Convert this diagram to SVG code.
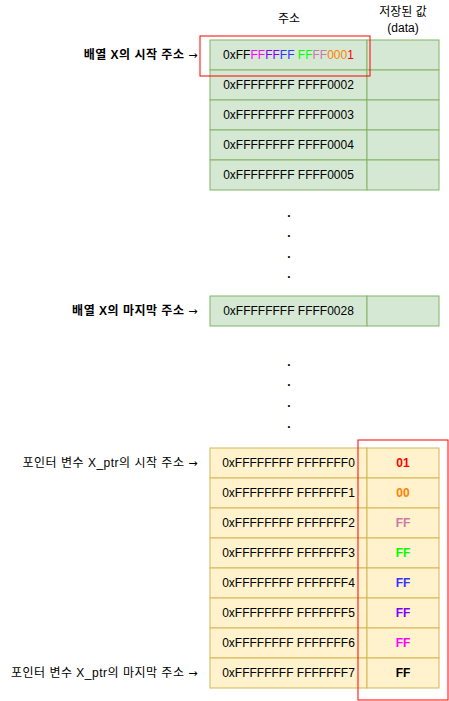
<svg xmlns="http://www.w3.org/2000/svg" width="449" height="701" viewBox="0 0 449 701">
<style>
text{font-family:"Liberation Sans","Noto Sans CJK KR",Arial,sans-serif;font-size:12px;fill:#000}
.g{fill:#d5e8d4;stroke:#82b366;stroke-width:1}
.y{fill:#fff2cc;stroke:#d6b656;stroke-width:1}
.a{text-anchor:middle}
.r{text-anchor:end;letter-spacing:0.5px}
.b{font-weight:bold}
.ar{font-family:"DejaVu Sans",sans-serif;font-weight:normal;font-size:11px}
.hl{fill:none;stroke:#ff0000;stroke-width:1}
</style>
<rect width="449" height="701" fill="#ffffff"/>
<g id="header">
<text class="a" x="289" y="23">주소</text>
<text class="a" x="403" y="16">저장된 값</text>
<text class="a" x="403" y="32">(data)</text>
</g>
<g id="array-rows">
<g id="a1"><rect class="g" x="210" y="40" width="157" height="30"/><rect class="g" x="367" y="40" width="72" height="30"/>
<text class="a" x="288.5" y="59">0xFF<tspan style="fill:#ff00ff">FF</tspan><tspan style="fill:#7f00ff">FF</tspan><tspan style="fill:#3333ff">FF</tspan> <tspan style="fill:#00ff00">FF</tspan><tspan style="fill:#cc79a7">FF</tspan><tspan style="fill:#ff8000">000</tspan><tspan style="fill:#ff0000">1</tspan></text></g>
<g id="a2"><rect class="g" x="210" y="70" width="157" height="30"/><rect class="g" x="367" y="70" width="72" height="30"/><text class="a" x="288.5" y="89">0xFFFFFFFF FFFF0002</text></g>
<g id="a3"><rect class="g" x="210" y="100" width="157" height="30"/><rect class="g" x="367" y="100" width="72" height="30"/><text class="a" x="288.5" y="119">0xFFFFFFFF FFFF0003</text></g>
<g id="a4"><rect class="g" x="210" y="130" width="157" height="30"/><rect class="g" x="367" y="130" width="72" height="30"/><text class="a" x="288.5" y="149">0xFFFFFFFF FFFF0004</text></g>
<g id="a5"><rect class="g" x="210" y="160" width="157" height="30"/><rect class="g" x="367" y="160" width="72" height="30"/><text class="a" x="288.5" y="179">0xFFFFFFFF FFFF0005</text></g>
<g id="a40"><rect class="g" x="210" y="296" width="157" height="30"/><rect class="g" x="367" y="296" width="72" height="30"/><text class="a" x="288.5" y="315">0xFFFFFFFF FFFF0028</text></g>
</g>
<g id="dots" class="b">
<text class="a" x="289" y="217">.</text>
<text class="a" x="289" y="237">.</text>
<text class="a" x="289" y="258">.</text>
<text class="a" x="289" y="278">.</text>
<text class="a" x="289" y="366">.</text>
<text class="a" x="289" y="386">.</text>
<text class="a" x="289" y="407">.</text>
<text class="a" x="289" y="428">.</text>
</g>
<g id="ptr-rows">
<g id="p0"><rect class="y" x="210" y="448" width="157" height="30"/><rect class="y" x="367" y="448" width="72" height="30"/><text class="a" x="288.5" y="467">0xFFFFFFFF FFFFFFF0</text><text class="a b" x="403" y="467" style="fill:#ff0000">01</text></g>
<g id="p1"><rect class="y" x="210" y="478" width="157" height="30"/><rect class="y" x="367" y="478" width="72" height="30"/><text class="a" x="288.5" y="497">0xFFFFFFFF FFFFFFF1</text><text class="a b" x="403" y="497" style="fill:#ff8000">00</text></g>
<g id="p2"><rect class="y" x="210" y="508" width="157" height="30"/><rect class="y" x="367" y="508" width="72" height="30"/><text class="a" x="288.5" y="527">0xFFFFFFFF FFFFFFF2</text><text class="a b" x="403" y="527" style="fill:#cc79a7">FF</text></g>
<g id="p3"><rect class="y" x="210" y="538" width="157" height="30"/><rect class="y" x="367" y="538" width="72" height="30"/><text class="a" x="288.5" y="557">0xFFFFFFFF FFFFFFF3</text><text class="a b" x="403" y="557" style="fill:#00ff00">FF</text></g>
<g id="p4"><rect class="y" x="210" y="568" width="157" height="30"/><rect class="y" x="367" y="568" width="72" height="30"/><text class="a" x="288.5" y="587">0xFFFFFFFF FFFFFFF4</text><text class="a b" x="403" y="587" style="fill:#3333ff">FF</text></g>
<g id="p5"><rect class="y" x="210" y="598" width="157" height="30"/><rect class="y" x="367" y="598" width="72" height="30"/><text class="a" x="288.5" y="617">0xFFFFFFFF FFFFFFF5</text><text class="a b" x="403" y="617" style="fill:#7f00ff">FF</text></g>
<g id="p6"><rect class="y" x="210" y="628" width="157" height="30"/><rect class="y" x="367" y="628" width="72" height="30"/><text class="a" x="288.5" y="647">0xFFFFFFFF FFFFFFF6</text><text class="a b" x="403" y="647" style="fill:#ff00ff">FF</text></g>
<g id="p7"><rect class="y" x="210" y="658" width="157" height="30"/><rect class="y" x="367" y="658" width="72" height="30"/><text class="a" x="288.5" y="677">0xFFFFFFFF FFFFFFF7</text><text class="a b" x="403" y="677">FF</text></g>
</g>
<g id="labels">
<text class="r b" x="198" y="59">배열 X의 시작 주소 <tspan class="ar">→</tspan></text>
<text class="r b" x="198" y="315">배열 X의 마지막 주소 <tspan class="ar">→</tspan></text>
<text class="r" x="198" y="467">포인터 변수 X_ptr의 시작 주소 <tspan class="ar">→</tspan></text>
<text class="r" x="198" y="677">포인터 변수 X_ptr의 마지막 주소 <tspan class="ar">→</tspan></text>
</g>
<g id="highlights">
<rect class="hl" x="200" y="36" width="170" height="40"/>
<rect class="hl" x="358" y="440" width="90" height="260"/>
</g>
</svg>
